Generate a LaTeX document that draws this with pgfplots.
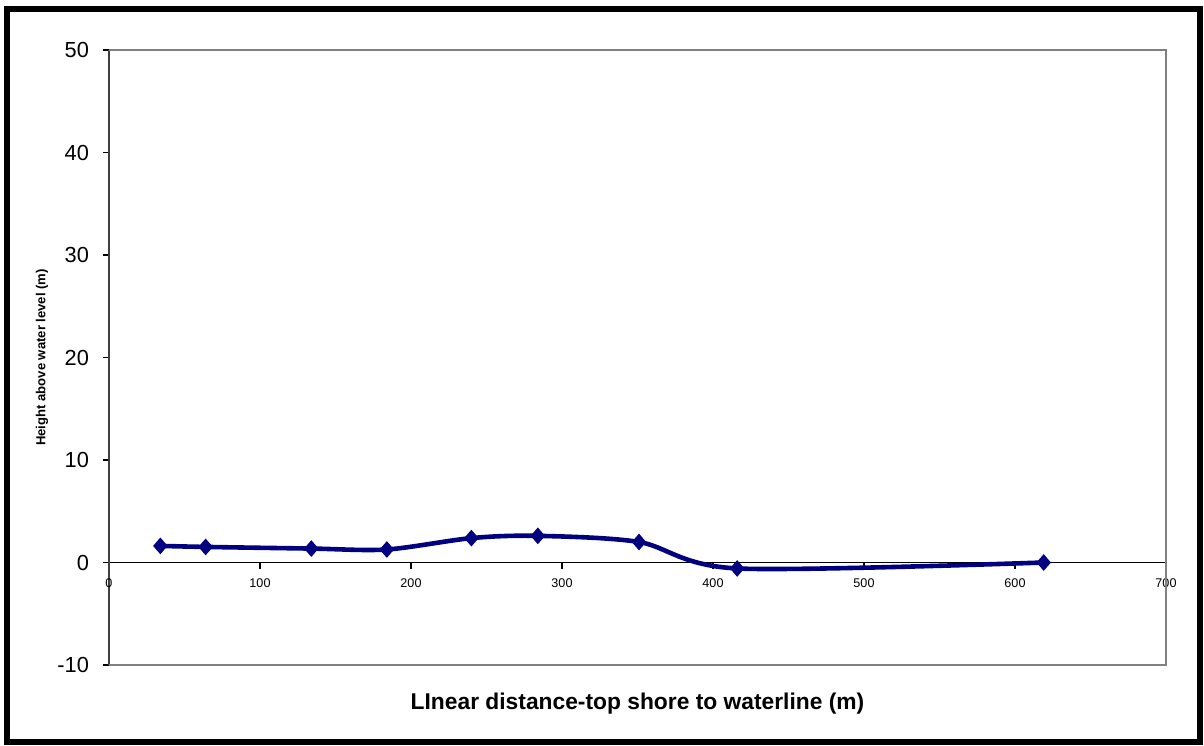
\documentclass[border=0pt]{standalone}
\usepackage{pgfplots}
\pgfplotsset{compat=1.18}
\usepackage{fontspec}
\setmainfont{Liberation Sans}
\definecolor{series}{RGB}{0,0,128}
\definecolor{bordergray}{RGB}{128,128,128}
\definecolor{axisdark}{RGB}{64,64,64}
\begin{document}
\begin{tikzpicture}
\useasboundingbox (0,0) rectangle (602pt,372.5pt);
\draw[line width=3pt] (3.5pt,1.5pt) rectangle (600pt,368pt);
\begin{axis}[
  at={(54.5pt,40pt)}, anchor=south west,
  scale only axis, width=528.5pt, height=307.5pt,
  xmin=0, xmax=700, ymin=-10, ymax=50,
  axis x line=middle, axis y line=left,
  hide obscured x ticks=false,
  axis line style={-},
  x axis line style={black, line width=0.6pt},
  y axis line style={axisdark, line width=0.9pt},
  xtick={0,100,...,700}, ytick={-10,0,...,50},
  tick align=outside,
  major tick length=3pt,
  tick style={black, line width=0.6pt},
  /pgf/number format/assume math mode=true,
  xticklabel style={font=\fontsize{6.3}{7}\selectfont, yshift=-1.5pt},
  yticklabel style={font=\fontsize{10.9}{12}\selectfont, xshift=-3.5pt},
  xlabel={LInear distance-top shore to waterline (m)},
  ylabel={Height above water level (m)},
  every axis x label/.style={at={(rel axis cs:0.5,0)}, anchor=center, yshift=-19.5pt, font=\fontsize{11.4}{13}\selectfont\bfseries},
  every axis y label/.style={at={(rel axis cs:0,0.5)}, anchor=center, rotate=90, yshift=33.5pt, font=\fontsize{6.55}{8}\selectfont\bfseries},
  clip=false,
]
\draw[bordergray, line width=0.6pt] (rel axis cs:0,0) -- (rel axis cs:1,0) -- (rel axis cs:1,1) -- (rel axis cs:0,1);
\addplot[series, line width=2.3pt, smooth, tension=0.5, mark=diamond*, mark size=3.8pt, mark options={solid, fill=series, line width=0.5pt, xscale=1.15}]
coordinates {
(34,1.62) (64,1.52) (134,1.36) (184,1.27) (240,2.38) (284,2.6) (351,2.0) (416,-0.58) (619,0.0)
};
\end{axis}
\end{tikzpicture}
\end{document}
